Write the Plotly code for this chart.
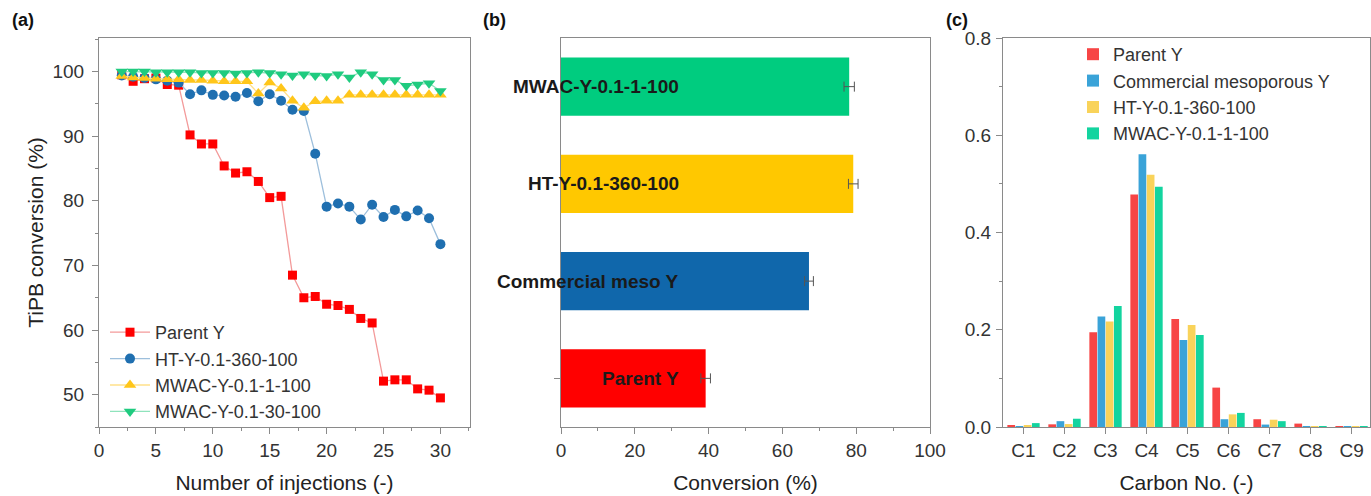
import plotly.graph_objects as go

# ---------------- data ----------------
# (a) TiPB conversion vs number of injections
injections = list(range(2, 31))
parent_a = [99.5, 98.5, 98.9, 99.0, 98.0, 97.9, 90.2, 88.8, 88.8, 85.4, 84.3, 84.5, 83.0, 80.5, 80.7,
            68.5, 65.0, 65.2, 64.0, 63.8, 63.2, 61.8, 61.1, 52.1, 52.3, 52.3, 50.9, 50.7, 49.5]
ht_a = [99.4, 99.2, 99.0, 98.8, 98.6, 98.3, 96.5, 97.1, 96.4, 96.3, 96.1, 96.7, 95.4, 96.5, 95.5,
        94.1, 93.9, 87.3, 79.1, 79.6, 79.1, 77.1, 79.4, 77.5, 78.6, 77.6, 78.5, 77.3, 73.3]
mw1_a = [99.3, 99.1, 99.0, 98.9, 98.8, 98.8, 98.7, 98.7, 98.6, 98.5, 98.5, 98.5, 96.6, 98.3, 97.4,
         95.5, 94.4, 95.4, 95.5, 95.5, 96.4, 96.4, 96.4, 96.4, 96.4, 96.4, 96.4, 96.4, 96.4]
mw30_a = [100.0, 100.0, 100.0, 99.9, 99.9, 99.9, 99.9, 99.8, 99.8, 99.8, 99.7, 99.8, 99.9, 99.8, 99.6,
          99.4, 99.6, 99.4, 99.3, 99.6, 99.1, 99.9, 99.6, 98.7, 98.7, 97.8, 98.0, 98.2, 97.0]
names_a = ["Parent Y", "HT-Y-0.1-360-100", "MWAC-Y-0.1-1-100", "MWAC-Y-0.1-30-100"]

# (b) conversion
cats_b = ["Parent Y", "Commercial meso Y", "HT-Y-0.1-360-100", "MWAC-Y-0.1-1-100"]
conv_b = [39.2, 67.2, 79.2, 78.1]
err_b = [1.3, 1.2, 1.3, 1.4]

# (c) carbon number distribution
carbons = ["C1", "C2", "C3", "C4", "C5", "C6", "C7", "C8", "C9"]
parent_c = [0.0035, 0.0055, 0.195, 0.478, 0.222, 0.081, 0.016, 0.007, 0.002]
comm_c = [0.002, 0.012, 0.227, 0.561, 0.179, 0.016, 0.005, 0.001, 0.001]
ht_c = [0.004, 0.006, 0.217, 0.519, 0.210, 0.026, 0.015, 0.001, 0.001]
mw_c = [0.008, 0.017, 0.249, 0.494, 0.189, 0.029, 0.012, 0.001, 0.001]
names_c = ["Parent Y", "Commercial mesoporous Y", "HT-Y-0.1-360-100", "MWAC-Y-0.1-1-100"]

# ---------------- style ----------------
FONT = "Arial, Liberation Sans, sans-serif"
TXT = "#222222"
AX = "#8a8a8a"
W, H = 1371, 496

def px(x):
    return x / W

def py(y):
    return (H - y) / H

ydom = [py(427), py(38)]

fig = go.Figure()

# (a)
a_marker = ["square", "circle", "triangle-up", "triangle-down"]
a_color = ["#FF0000", "#1F6FB0", "#FFC61A", "#1FCB7F"]
a_line = ["#F39A9A", "#9DBFDC", "#FFE08A", "#8FE3BC"]
a_size = [9, 10, 11, 11]
for name, vals, sym, col, lc, sz in zip(names_a, [parent_a, ht_a, mw1_a, mw30_a], a_marker, a_color, a_line, a_size):
    fig.add_trace(go.Scatter(
        x=injections, y=vals, name=name, mode="lines+markers",
        line=dict(color=lc, width=1.3),
        marker=dict(symbol=sym, size=sz, color=col),
        xaxis="x", yaxis="y", legend="legend",
    ))

# (b)
fig.add_trace(go.Bar(
    y=cats_b, x=conv_b, orientation="h", width=0.6,
    marker=dict(color=["#FF0000", "#1067AB", "#FFC800", "#00CC7F"], line=dict(width=0)),
    error_x=dict(type="data", array=err_b, color="#555555", thickness=1, width=5),
    xaxis="x2", yaxis="y2", showlegend=False,
))

# (c)
c_color = ["#F74545", "#3AA3D8", "#F9D35A", "#13D49F"]
for name, vals, col in zip(names_c, [parent_c, comm_c, ht_c, mw_c], c_color):
    fig.add_trace(go.Bar(
        x=carbons, y=vals, name=name, marker=dict(color=col, line=dict(width=0)),
        xaxis="x3", yaxis="y3", legend="legend2",
    ))

tickfont = dict(family=FONT, size=19, color="#333333")
titlefont = dict(family=FONT, size=21, color=TXT)

common = dict(showline=True, linecolor=AX, linewidth=1, mirror=True, showgrid=False, automargin=False,
              zeroline=False, ticks="outside", tickcolor=AX, ticklen=6, tickfont=tickfont)

fig.update_layout(
    width=W, height=H,
    margin=dict(l=0, r=0, t=0, b=0, autoexpand=False),
    paper_bgcolor="white", plot_bgcolor="white",
    font=dict(family=FONT, color=TXT),
    barmode="group", bargap=0.2, bargroupgap=0.06,
    xaxis=dict(domain=[px(99), px(470)], range=[0, 32.6], anchor="y",
               tickvals=[0, 5, 10, 15, 20, 25, 30],
               minor=dict(dtick=2.5, ticks="outside", ticklen=3, tickcolor=AX, tick0=0),
               title=dict(text="Number of injections (-)", font=titlefont, standoff=15), **common),
    yaxis=dict(domain=ydom, range=[45, 105.2], anchor="x",
               tickvals=[50, 60, 70, 80, 90, 100], ticklabelstandoff=4,
               minor=dict(dtick=5, ticks="outside", ticklen=3, tickcolor=AX, tick0=0),
               title=dict(text="TiPB conversion (%)", font=titlefont, standoff=3), **common),
    xaxis2=dict(domain=[px(561), px(930)], range=[0, 100], anchor="y2",
                tickvals=[0, 20, 40, 60, 80, 100],
                minor=dict(dtick=10, ticks="outside", ticklen=3, tickcolor=AX, tick0=0),
                title=dict(text="Conversion (%)", font=titlefont, standoff=15), **common),
    yaxis2=dict(domain=ydom, range=[-0.5, 3.5], anchor="x2", type="category",
                categoryorder="array", categoryarray=cats_b,
                tickvals=[cats_b[0]], showticklabels=False,
                **{k: v for k, v in common.items() if k != "tickfont"}),
    xaxis3=dict(domain=[px(1003), px(1370)], range=[-0.5, 8.45], anchor="y3", type="category",
                title=dict(text="Carbon No. (-)", font=titlefont, standoff=15), **common),
    yaxis3=dict(domain=ydom, range=[0, 0.8], anchor="x3",
                tickvals=[0, 0.2, 0.4, 0.6, 0.8], tickformat=".1f", ticklabelstandoff=1,
                minor=dict(dtick=0.1, ticks="outside", ticklen=3, tickcolor=AX, tick0=0),
                **common),
    legend=dict(x=px(105), y=py(314), xanchor="left", yanchor="top",
                bgcolor="rgba(0,0,0,0)", font=dict(family=FONT, size=18, color="#333333"),
                tracegroupgap=0, itemwidth=40),
    legend2=dict(x=px(1073), y=py(36), xanchor="left", yanchor="top",
                 bgcolor="rgba(0,0,0,0)", font=dict(family=FONT, size=18, color="#333333"),
                 tracegroupgap=0),
)

# panel labels
for lab, xx in [("(a)", 10), ("(b)", 481), ("(c)", 944)]:
    fig.add_annotation(text=f"<b>{lab}</b>", xref="paper", yref="paper", x=px(xx), y=py(8),
                       xanchor="left", yanchor="top", showarrow=False,
                       font=dict(family=FONT, size=18, color="#111111"))

# category labels inside panel (b)
for c in cats_b:
    fig.add_annotation(text=f"<b>{c}</b>", xref="x2", yref="y2", x=32.5, y=c,
                       xanchor="right", yanchor="middle", showarrow=False,
                       font=dict(family=FONT, size=19, color="#1a1a1a"))

fig.write_html("out.html", config={"displayModeBar": False},
               post_script="document.body.style.margin='0px';document.body.style.overflow='hidden';")
